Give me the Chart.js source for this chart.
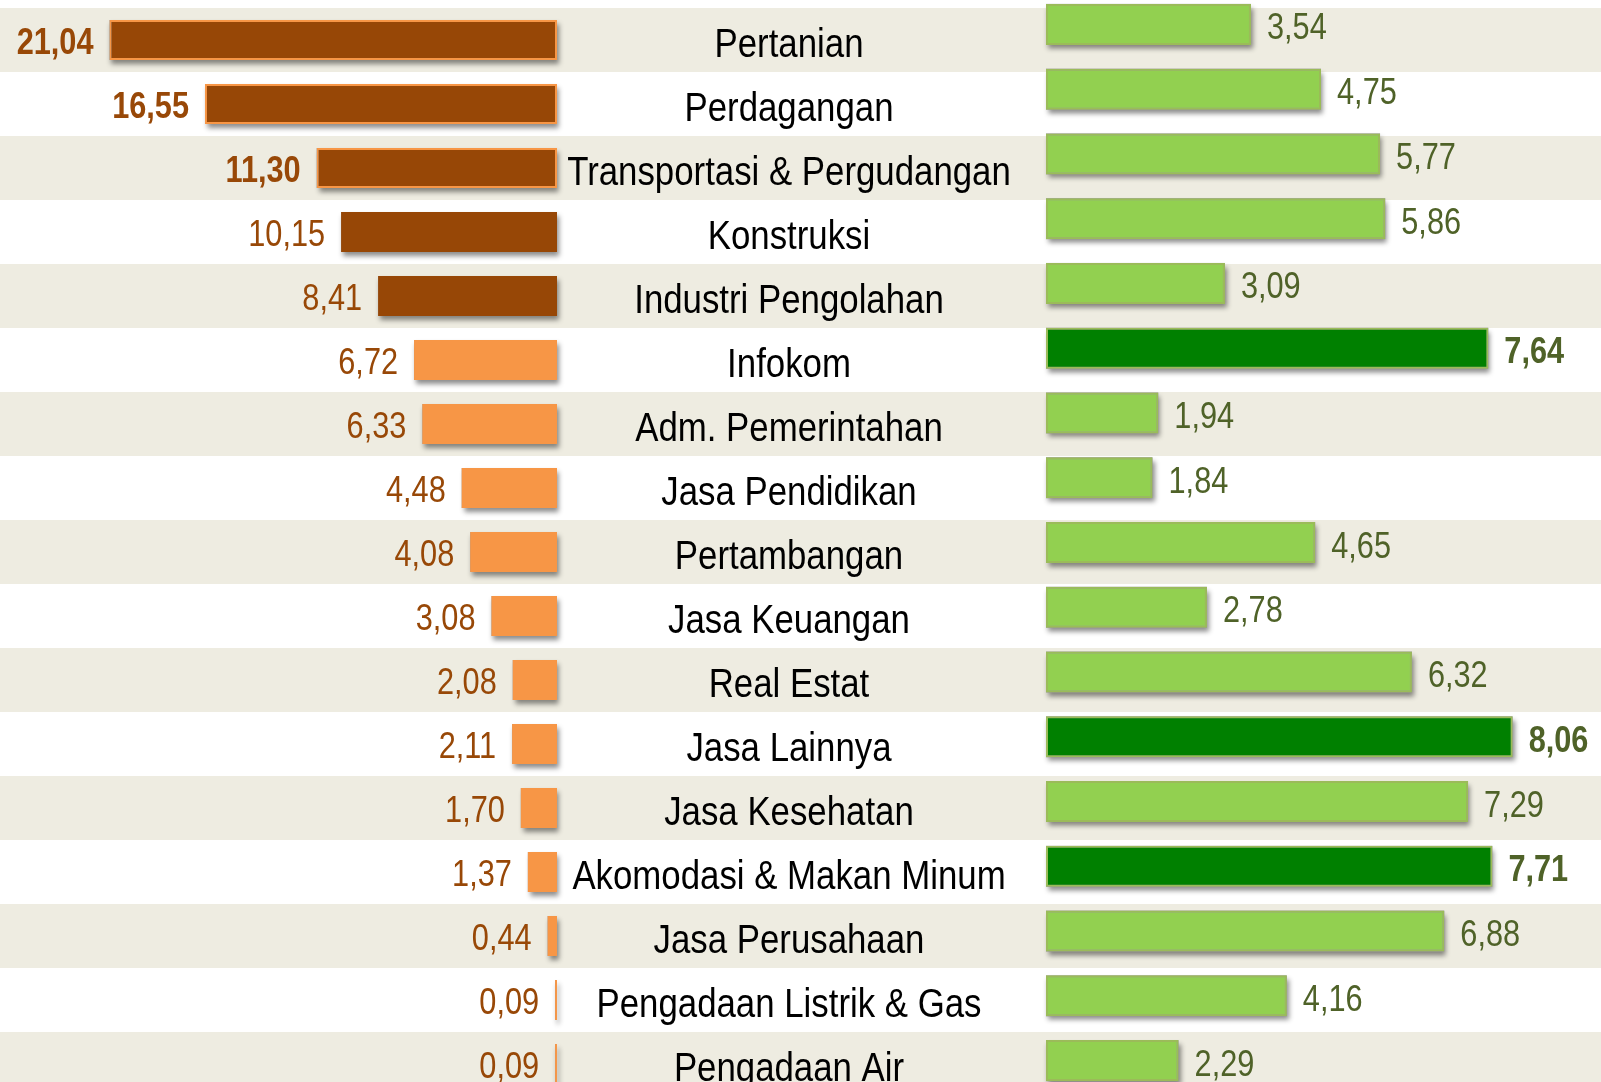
<!DOCTYPE html>
<html>
<head>
<meta charset="utf-8">
<script src="https://cdn.jsdelivr.net/npm/chart.js@4.4.1/dist/chart.umd.min.js"></script>
<style>
  html, body { margin: 0; padding: 0; background: #fff; overflow: hidden; }
  #wrap { position: relative; width: 1601px; height: 1082px; overflow: hidden; }
  canvas { position: absolute; left: 0; }
  #left { top: 0; }
  #right { top: -16px; }
</style>
</head>
<body>
<div id="wrap">
  <canvas id="left" width="1601" height="1100"></canvas>
  <canvas id="right" width="1601" height="1117"></canvas>
</div>
<script>
// data
const sectors = [
    'Pertanian', 'Perdagangan', 'Transportasi & Pergudangan', 'Konstruksi',
    'Industri Pengolahan', 'Infokom', 'Adm. Pemerintahan', 'Jasa Pendidikan',
    'Pertambangan', 'Jasa Keuangan', 'Real Estat', 'Jasa Lainnya',
    'Jasa Kesehatan', 'Akomodasi & Makan Minum', 'Jasa Perusahaan',
    'Pengadaan Listrik & Gas', 'Pengadaan Air'
];
const shareValues = [21.04, 16.55, 11.30, 10.15, 8.41, 6.72, 6.33, 4.48, 4.08, 3.08, 2.08, 2.11, 1.70, 1.37, 0.44, 0.09, 0.09];
const growthValues = [3.54, 4.75, 5.77, 5.86, 3.09, 7.64, 1.94, 1.84, 4.65, 2.78, 6.32, 8.06, 7.29, 7.71, 6.88, 4.16, 2.29];
const growthTop = ['Infokom', 'Jasa Lainnya', 'Akomodasi & Makan Minum'];

const FONT = '"Liberation Sans", Arial, sans-serif';
const BAND = '#EEECE1';

const fmt = v => v.toFixed(2).replace('.', ',');

function drawText(ctx, text, x, y, font, color, align, sx) {
    ctx.save();
    ctx.font = font;
    ctx.fillStyle = color;
    ctx.textAlign = align;
    ctx.textBaseline = 'alphabetic';
    ctx.translate(x, y);
    ctx.scale(sx, 1);
    ctx.fillText(text, 0, 0);
    ctx.restore();
}

// soft drop shadow under every bar
const barShadow = {
    id: 'barShadow',
    beforeDatasetsDraw(chart) {
        const ctx = chart.ctx;
        const meta = chart.getDatasetMeta(0);
        ctx.save();
        ctx.shadowColor = 'rgba(0,0,0,0.45)';
        ctx.shadowBlur = 5;
        ctx.shadowOffsetX = 2;
        ctx.shadowOffsetY = 4;
        ctx.fillStyle = '#999';
        meta.data.forEach(bar => {
            const p = bar.getProps(['x', 'y', 'base', 'height'], true);
            ctx.fillRect(Math.min(p.x, p.base), p.y - p.height / 2, Math.abs(p.x - p.base), p.height);
        });
        ctx.restore();
    }
};

// alternating row bands + sector names (left chart owns them)
const rowsPlugin = {
    id: 'rows',
    beforeDraw(chart) {
        const ctx = chart.ctx;
        const y = chart.scales.y;
        const h = y.height / sectors.length;
        ctx.save();
        ctx.fillStyle = BAND;
        sectors.forEach((s, i) => {
            if (i % 2 === 0) ctx.fillRect(0, y.getPixelForValue(i) - h / 2, chart.width, h);
        });
        ctx.restore();
    },
    afterDraw(chart) {
        const y = chart.scales.y;
        sectors.forEach((s, i) => {
            drawText(chart.ctx, s, 789, y.getPixelForValue(i) + 16.5, '40px ' + FONT, '#000', 'center', 0.87);
        });
    }
};

const leftLabels = {
    id: 'leftLabels',
    afterDatasetsDraw(chart) {
        const meta = chart.getDatasetMeta(0);
        meta.data.forEach((bar, i) => {
            const bold = i < 3 ? 'bold ' : '';
            drawText(chart.ctx, fmt(shareValues[i]), bar.x - 16, bar.y + 13.5, bold + '37px ' + FONT, '#984807', 'right', 0.83);
        });
    }
};

const rightLabels = {
    id: 'rightLabels',
    afterDatasetsDraw(chart) {
        const meta = chart.getDatasetMeta(0);
        meta.data.forEach((bar, i) => {
            const bold = growthTop.includes(sectors[i]) ? 'bold ' : '';
            drawText(chart.ctx, fmt(growthValues[i]), bar.x + 16, bar.y + 15, bold + '37px ' + FONT, '#4F6228', 'left', 0.83);
        });
    }
};

const common = {
    indexAxis: 'y',
    responsive: false,
    animation: false,
    plugins: { legend: { display: false }, tooltip: { enabled: false } }
};

new Chart(document.getElementById('left').getContext('2d'), {
    type: 'bar',
    data: {
        labels: sectors,
        datasets: [{
            data: shareValues,
            backgroundColor: shareValues.map((v, i) => i < 5 ? '#974706' : '#F79646'),
            borderColor: '#F79646',
            borderWidth: shareValues.map((v, i) => i < 3 ? 2 : 0),
            borderSkipped: false,
            categoryPercentage: 1,
            barPercentage: 0.625,
            clip: false
        }]
    },
    options: {
        ...common,
        layout: { padding: { top: 8, bottom: 4, left: 0, right: 1044 } },
        scales: {
            x: { display: false, reverse: true, min: 0, max: 557 / 21.27 },
            y: { display: false }
        }
    },
    plugins: [rowsPlugin, barShadow, leftLabels]
});

new Chart(document.getElementById('right').getContext('2d'), {
    type: 'bar',
    data: {
        labels: sectors,
        datasets: [{
            data: growthValues,
            backgroundColor: sectors.map(s => growthTop.includes(s) ? '#008000' : '#92D050'),
            borderColor: '#9BBB59',
            borderWidth: 2,
            borderSkipped: false,
            categoryPercentage: 1,
            barPercentage: 0.633,
            clip: false
        }]
    },
    options: {
        ...common,
        layout: { padding: { top: 8, bottom: 8, left: 1046, right: 0 } },
        scales: {
            x: { display: false, min: 0, max: 555 / 57.9 },
            y: { display: false }
        }
    },
    plugins: [barShadow, rightLabels]
});
</script>
</body>
</html>
